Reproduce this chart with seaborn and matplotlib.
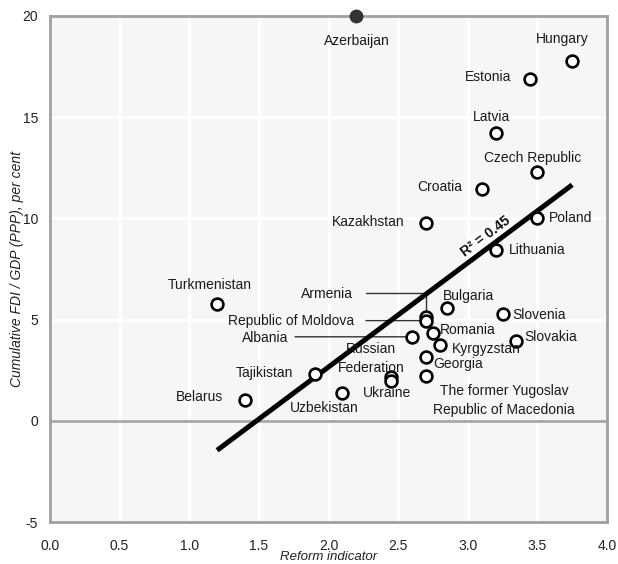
import numpy as np
import pandas as pd
import matplotlib
matplotlib.use("Agg")
import matplotlib.pyplot as plt
import seaborn as sns

# ---------------- data ----------------
countries = ["Azerbaijan", "Hungary", "Estonia", "Latvia", "Czech Republic",
             "Croatia", "Kazakhstan", "Poland", "Lithuania", "Turkmenistan",
             "Armenia", "Republic of Moldova", "Bulgaria", "Slovenia", "Romania",
             "Albania", "Kyrgyzstan", "Slovakia", "Russian Federation", "Georgia",
             "Tajikistan", "Ukraine",
             "The former Yugoslav Republic of Macedonia", "Uzbekistan", "Belarus"]
reform = [2.2, 3.75, 3.45, 3.2, 3.5, 3.1, 2.7, 3.5, 3.2, 1.2,
          2.7, 2.7, 2.85, 3.25, 2.75, 2.6, 2.8, 3.35, 2.45, 2.7,
          1.9, 2.45, 2.7, 2.1, 1.4]
fdi = [20.0, 17.8, 16.9, 14.2, 12.3, 11.45, 9.75, 10.0, 8.45, 5.75,
       5.15, 4.95, 5.55, 5.3, 4.35, 4.15, 3.75, 3.95, 2.15, 3.15,
       2.3, 1.95, 2.2, 1.35, 1.05]
outliers = ["Azerbaijan"]          # shown filled, excluded from the fit
r2_text = "R² = 0.45"
x_ticks = [0.0, 0.5, 1.0, 1.5, 2.0, 2.5, 3.0, 3.5, 4.0]
y_ticks = [-5, 0, 5, 10, 15, 20]
x_title = "Reform indicator"
y_title = "Cumulative FDI / GDP (PPP), per cent"

display_names = {
    "Russian Federation": "Russian\nFederation",
    "The former Yugoslav Republic of Macedonia": "The former Yugoslav\nRepublic of Macedonia",
}

# label layout: offset in pixels from the point (x right, y up), alignment
label_layout = {
    "Azerbaijan": (0, -25, "center"),
    "Hungary": (-10, 22, "center"),
    "Estonia": (-19, 1.5, "right"),
    "Latvia": (-4, 16, "center"),
    "Czech Republic": (-5, 14, "center"),
    "Croatia": (-19, 2, "right"),
    "Kazakhstan": (-21, 1.5, "right"),
    "Poland": (12, 0, "left"),
    "Lithuania": (13, 0, "left"),
    "Turkmenistan": (-7, 19, "center"),
    "Armenia": (-73, 23, "right"),
    "Republic of Moldova": (-72, 0, "right"),
    "Bulgaria": (22, 12, "center"),
    "Slovenia": (10, -1.5, "left"),
    "Romania": (7, 2.5, "left"),
    "Albania": (-124, -1.5, "right"),
    "Kyrgyzstan": (12, -4, "left"),
    "Slovakia": (7.5, 4.3, "left"),
    "Russian Federation": (-20, 18.5, "center"),
    "Georgia": (7, -7, "left"),
    "Tajikistan": (-21, 1.7, "right"),
    "Ukraine": (-4, -12, "center"),
    "The former Yugoslav Republic of Macedonia": (78, -24.5, "center"),
    "Uzbekistan": (-18.6, -14.6, "center"),
    "Belarus": (-22, 3, "right"),
}
# leader lines: start offset in pixels, connection style
leaders = {
    "Armenia": ((-60, 24), "angle,angleA=0,angleB=90,rad=0", 2.5),
    "Republic of Moldova": ((-60, 0), "arc3,rad=0", 4),
    "Albania": ((-117, 0), "arc3,rad=0", 4),
}

df = pd.DataFrame({"country": countries, "reform": reform, "fdi": fdi})
df["outlier"] = df["country"].isin(outliers)
fit_df = df[~df["outlier"]]

# ---------------- figure ----------------
sns.set_style("white")
plt.rcParams["font.family"] = ["Liberation Sans", "DejaVu Sans"]

fig = plt.figure(figsize=(6.18, 5.64), dpi=100)
ax = fig.add_axes([50 / 618, 1 - 522 / 564, 557 / 618, 506 / 564])
ax.set_facecolor("#f6f6f6")

ax.set_xlim(0, 4)
ax.set_ylim(-5, 20)
ax.set_xticks(x_ticks)
ax.set_xticklabels([f"{t:.1f}" for t in x_ticks])
ax.set_yticks(y_ticks)
ax.set_yticklabels([str(t) for t in y_ticks])
ax.grid(True, color="white", lw=2.2, zorder=0)
ax.set_axisbelow(True)
ax.axhline(0, color="#a8a8a8", lw=2, zorder=1)

for s in ax.spines.values():
    s.set_color("#a0a0a0")
    s.set_linewidth(2)

ax.tick_params(axis="both", length=0, labelsize=10, labelcolor="#222222")
ax.tick_params(axis="x", pad=12.5)
ax.tick_params(axis="y", pad=8.5)

# regression line (fit excludes the outlier)
sns.regplot(data=fit_df, x="reform", y="fdi", scatter=False, ci=None,
            truncate=True, ax=ax,
            line_kws=dict(color="black", lw=3.6, solid_capstyle="butt", zorder=3))

# points
sns.scatterplot(data=df[~df["outlier"]], x="reform", y="fdi", ax=ax,
                s=72, facecolor="white", edgecolor="black", linewidth=1.9,
                zorder=4, clip_on=False, legend=False)
sns.scatterplot(data=df[df["outlier"]], x="reform", y="fdi", ax=ax,
                s=72, color="#333333", edgecolor="#333333", linewidth=1.5,
                zorder=5, clip_on=False, legend=False)

ax.set_xlabel(x_title, fontsize=9.5, fontstyle="italic", color="#222222")
ax.set_ylabel(y_title, fontsize=10, fontstyle="italic", color="#222222")
ax.xaxis.label.set_va("bottom")
ax.xaxis.set_label_coords(0.5, -0.0815)
ax.yaxis.set_label_coords(-0.047, 0.5)

# leader lines
for name, (start, cstyle, shrink) in leaders.items():
    row = df[df["country"] == name].iloc[0]
    ax.annotate("", xy=(row["reform"], row["fdi"]), xytext=start,
                textcoords="offset pixels",
                arrowprops=dict(arrowstyle="-", color="#333333", lw=1,
                                shrinkA=0, shrinkB=shrink,
                                connectionstyle=cstyle),
                zorder=2)

# labels
for _, row in df.iterrows():
    name = row["country"]
    dx, dy, ha = label_layout[name]
    ax.annotate(display_names.get(name, name), xy=(row["reform"], row["fdi"]),
                xytext=(dx, dy), textcoords="offset pixels",
                ha=ha, va="center", fontsize=10, color="#1a1a1a",
                multialignment="center", linespacing=1.45, zorder=6,
                annotation_clip=False)

# R² label along the fitted line
ax.text(3.13, 9.1, r2_text, rotation=37, rotation_mode="anchor",
        ha="center", va="center", fontsize=10, fontweight="bold",
        color="#111111", zorder=2.5,
        bbox=dict(boxstyle="square,pad=0.1", fc="white", ec="none"))

fig.savefig("out.png", dpi=100)
